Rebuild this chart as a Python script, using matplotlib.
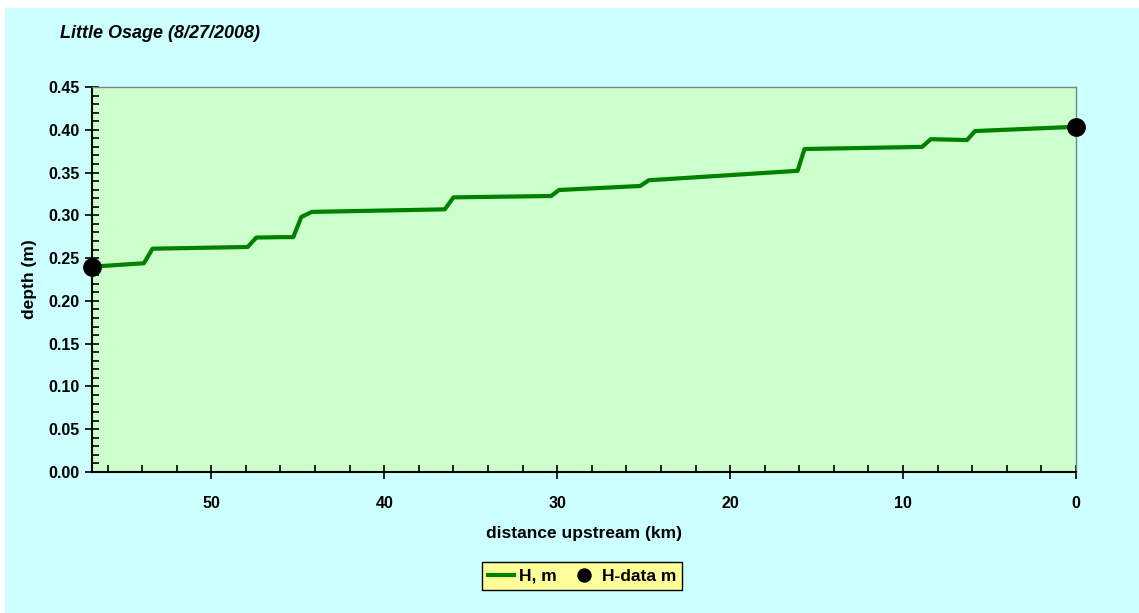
import matplotlib.pyplot as plt
from matplotlib.patches import Rectangle
from matplotlib.ticker import MultipleLocator

plt.rcParams['font.family'] = ['Liberation Sans', 'DejaVu Sans']

# model depth along the reach (km upstream, m)
dist = [56.9, 53.9, 53.4, 47.9, 47.4, 46.0, 45.26, 44.8, 44.2, 36.5, 36.0,
        30.35, 29.9, 25.2, 24.7, 16.1, 15.7, 8.9, 8.4, 6.3, 5.84, 0.0]
depth = [0.240, 0.244, 0.261, 0.263, 0.274, 0.2745, 0.2745, 0.298, 0.304, 0.307, 0.321,
         0.3226, 0.3296, 0.3343, 0.341, 0.352, 0.3775, 0.380, 0.389, 0.388, 0.3985, 0.4035]

# measured depths
data_dist = [56.9, 0.0]
data_depth = [0.240, 0.403]

fig = plt.figure(figsize=(11.39, 6.13), dpi=100, facecolor='white')
fig.patches.append(Rectangle((5/1139, 0), 1 - 5/1139, 1 - 8/613, transform=fig.transFigure,
                             facecolor='#CCFFFF', edgecolor='none', zorder=-10))

ax = fig.add_axes([92/1139, 1 - 472/613, (1076 - 92)/1139, (472 - 87)/613])
ax.set_facecolor('#CCFFCC')

ax.plot(dist, depth, color='#008000', lw=3, label='H, m', clip_on=False, zorder=3)
ax.plot(data_dist, data_depth, 'o', color='black', ms=12.5, label='H-data m',
        clip_on=False, zorder=4)

ax.set_xlim(56.9, 0)
ax.set_ylim(0, 0.45)
ax.xaxis.set_major_locator(MultipleLocator(10))
ax.xaxis.set_minor_locator(MultipleLocator(2))
ax.yaxis.set_major_locator(MultipleLocator(0.05))
ax.yaxis.set_minor_locator(MultipleLocator(0.01))
ax.yaxis.set_major_formatter(lambda v, p: f'{v:.2f}')
ax.xaxis.set_major_formatter(lambda v, p: f'{v:.0f}')

ax.tick_params(which='major', direction='inout', length=10, width=1.2, color='black',
               labelsize=11.5, pad=4)
ax.tick_params(which='minor', direction='in', length=5, width=1.2, color='black')
ax.tick_params(axis='x', which='major', pad=12)
for lab in ax.get_xticklabels() + ax.get_yticklabels():
    lab.set_fontweight('bold')

for s in ['left', 'bottom']:
    ax.spines[s].set_color('black')
    ax.spines[s].set_linewidth(1.5)
for s in ['top', 'right']:
    ax.spines[s].set_color('gray')
    ax.spines[s].set_linewidth(1)

ax.set_xlabel('distance upstream (km)', fontsize=12.5, fontweight='bold', labelpad=11)
ax.set_ylabel('depth (m)', fontsize=12.5, fontweight='bold', labelpad=8)

fig.text(60/1139, 1 - 33/613, 'Little Osage (8/27/2008)', fontsize=13, fontstyle='italic',
         fontweight='bold', va='center', ha='left')

leg = fig.legend(loc='center', bbox_to_anchor=(582/1139, 1 - 576/613), ncol=2,
                 frameon=True, fancybox=False, facecolor='#FFFF99', edgecolor='black',
                 framealpha=1, handlelength=1.5, handletextpad=0.3, columnspacing=0.8,
                 borderpad=0.35, prop={'weight': 'bold', 'size': 12.5}, markerscale=0.75)
leg.get_frame().set_linewidth(1)

fig.savefig('out.png', dpi=100)
